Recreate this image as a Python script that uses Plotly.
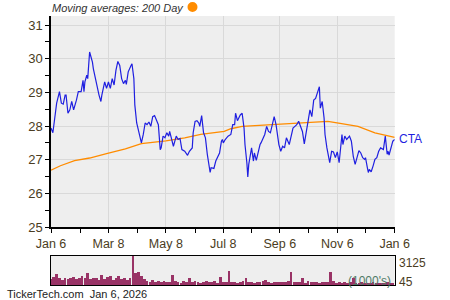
import pandas as pd
import plotly.graph_objects as go

START = "2025-01-06"
END = "2026-01-06"

# Price series: day offset from START, closing price
price_days = [0, 2, 6, 9, 11, 13, 15, 16, 18, 20, 22, 24, 27, 29, 32, 34, 35, 36, 38, 39,
              41, 44, 45, 47, 49, 51, 53, 54, 57, 59, 61, 63, 65, 67, 69, 71, 73, 75, 77, 79,
              80, 82, 85, 86, 88, 89, 91, 93, 94, 96, 98, 100, 102, 104, 106, 108, 110, 112, 114, 116,
              117, 119, 121, 123, 125, 126, 130, 133, 135, 137, 139, 142, 144, 145, 147, 150, 151, 153, 155, 157,
              158, 160, 162, 164, 166, 169, 170, 173, 175, 177, 179, 181, 182, 183, 185, 188, 191, 193, 195, 196,
              198, 201, 203, 205, 206, 208, 209, 210, 213, 215, 216, 218, 220, 222, 223, 225, 227, 229, 231, 233,
              235, 237, 239, 242, 244, 246, 248, 250, 253, 255, 257, 259, 261, 263, 265, 267, 269, 271, 273, 275,
              277, 279, 281, 283, 285, 286, 288, 290, 291, 293, 295, 296, 298, 300, 302, 304, 306, 307, 309, 310,
              312, 314, 317, 319, 321, 323, 325, 327, 329, 331, 333, 334, 336, 337, 338, 340, 342, 344, 346, 348,
              350, 353, 355, 357, 358, 359, 362, 363, 365]
price_vals = [27.94, 27.80, 28.68, 29.02, 28.68, 28.65, 28.92, 28.92, 28.38, 28.48, 28.73, 28.48, 28.77, 29.02, 29.02, 29.36, 29.02, 29.31, 29.51, 29.41,
              30.20, 29.90, 29.70, 29.41, 29.12, 28.92, 28.73, 28.92, 29.31, 29.12, 29.31, 29.12, 29.41, 29.22, 29.66, 29.92, 29.80, 29.41, 29.26, 29.36,
              29.24, 29.61, 29.80, 29.85, 29.41, 28.63, 28.09, 27.84, 27.75, 27.50, 27.75, 28.09, 28.04, 28.12, 27.99, 28.28, 28.31, 28.19, 28.04, 27.30,
              27.35, 27.70, 27.65, 27.80, 27.70, 27.84, 27.40, 27.70, 27.60, 27.63, 27.30, 27.25, 27.16, 27.13, 27.25, 27.35, 27.80, 28.14, 28.16, 28.09,
              27.99, 28.31, 27.80, 27.65, 27.16, 26.62, 26.76, 26.74, 26.96, 27.06, 27.20, 27.55, 27.60, 27.50, 27.60, 27.70, 27.75, 28.04, 28.04, 28.38,
              28.16, 28.33, 28.38, 27.94, 27.45, 26.91, 26.49, 26.86, 27.35, 26.96, 27.20, 26.98, 27.25, 27.45, 27.50, 27.65, 27.75, 27.99, 27.84, 27.80,
              28.04, 28.28, 28.04, 27.45, 27.25, 27.40, 27.35, 27.65, 27.45, 27.75, 27.94, 27.99, 28.04, 28.14, 27.99, 27.84, 27.47, 27.80, 28.14, 28.48,
              28.28, 28.77, 28.82, 29.02, 29.17, 28.53, 28.73, 28.24, 27.75, 27.35, 27.06, 26.91, 27.25, 27.23, 27.06, 27.23, 26.91, 27.16, 27.75, 27.45,
              27.70, 27.60, 27.70, 27.55, 27.10, 26.86, 27.06, 27.27, 27.20, 27.06, 27.01, 27.06, 26.76, 26.62, 26.71, 26.64, 26.81, 27.01, 27.06, 27.25,
              27.35, 27.30, 27.70, 27.16, 27.25, 27.14, 27.45, 27.55, 27.60]

# 200-day moving average
ma_days = [0, 10, 25, 41, 59, 79, 96, 122, 142, 159, 184, 191, 203, 220, 245, 264, 285, 294, 307, 326, 344, 361, 365]
ma_vals = [26.69, 26.82, 26.97, 27.05, 27.18, 27.32, 27.48, 27.56, 27.65, 27.75, 27.84, 27.92, 27.99, 28.02, 28.07, 28.09, 28.13, 28.14, 28.08, 27.99, 27.80, 27.70, 27.66]

# Volume (thousands), every 3 days
vol_step_days = 3
vol_vals = [650, 900, 1190, 720, 540, 790, 650, 720, 900, 610, 790, 1010, 720, 1260, 650, 790,
            720, 540, 1080, 650, 900, 1010, 540, 720, 970, 650, 790, 540, 720,
            3125,
            1300, 1400, 1000, 650,
            430, 360, 500, 290, 400, 330, 470, 360, 290, 1080, 400, 330, 250, 430, 360, 720,
            290, 400, 330, 250, 360, 470, 290, 330, 400, 250, 900, 360, 290,
            1510,
            360, 290, 250, 330, 400, 720, 290, 360, 250, 330, 290, 400, 540, 290, 250, 360, 330, 290,
            330, 290, 400, 1440, 360, 290, 330, 720, 250, 400, 330, 290, 360, 250, 330,
            290, 360, 1370, 400, 250, 290, 200, 330, 250, 290, 720, 200, 250, 290, 180, 250, 200,
            290, 250, 200, 180, 250, 290, 200, 250]

x_major = ["2025-01-06", "2025-03-08", "2025-05-08", "2025-07-08", "2025-09-06", "2025-11-06", "2026-01-06"]
x_major_text = ["Jan 6", "Mar 8", "May 8", "Jul 8", "Sep 6", "Nov 6", "Jan 6"]
x_minor = ["2025-02-06", "2025-04-08", "2025-06-08", "2025-08-07", "2025-10-06", "2025-12-06"]

start = pd.Timestamp(START)
price_dates = start + pd.to_timedelta(price_days, unit="D")
ma_dates = start + pd.to_timedelta(ma_days, unit="D")
vol_dates = start + pd.to_timedelta([i * vol_step_days for i in range(len(vol_vals))], unit="D")

FONT = "Liberation Sans, Arial, sans-serif"
TXT = "#4a3c22"

fig = go.Figure()
fig.add_trace(go.Scatter(x=ma_dates, y=ma_vals, mode="lines",
                         line=dict(color="#ff8c00", width=1.3), xaxis="x", yaxis="y", hoverinfo="skip"))
fig.add_trace(go.Scatter(x=price_dates, y=price_vals, mode="lines",
                         line=dict(color="#1f1fe0", width=1.2), xaxis="x", yaxis="y"))
fig.add_trace(go.Bar(x=vol_dates, y=vol_vals, marker=dict(color="#993366", line=dict(width=0)),
                     width=2.9 * 86400000, xaxis="x2", yaxis="y2"))

xd = [51 / 450, 394.7 / 450]
fig.update_layout(
    width=450, height=300, margin=dict(l=0, r=0, t=0, b=0, autoexpand=False),
    paper_bgcolor="white", plot_bgcolor="#eeeeee", showlegend=False,
    font=dict(family=FONT, size=12, color=TXT),
    xaxis=dict(domain=xd, anchor="y", type="date", range=[START, END], automargin=False,
               tickmode="array", tickvals=x_major, ticktext=x_major_text,
               ticks="outside", ticklen=4, tickcolor="black", tickwidth=1,
               showline=True, linecolor="black", linewidth=1.5,
               showgrid=True, gridcolor="#d9d9d9", gridwidth=1,
               tickfont=dict(size=12.5, color=TXT), zeroline=False,
               minor=dict(tickmode="array", tickvals=x_minor, ticks="outside", ticklen=4,
                          tickcolor="black", showgrid=False)),
    yaxis=dict(domain=[1 - 227 / 300, 1 - 16 / 300], anchor="x", range=[25, 31.27], automargin=False,
               tickmode="linear", tick0=25, dtick=1,
               ticks="outside", ticklen=4, tickcolor="black",
               showline=True, linecolor="black", linewidth=1.5,
               showgrid=True, gridcolor="#d9d9d9", gridwidth=1, zeroline=False,
               tickfont=dict(size=13, color=TXT),
               minor=dict(tickmode="linear", tick0=25.5, dtick=1, ticks="outside", ticklen=4,
                          tickcolor="black", showgrid=False)),
    xaxis2=dict(domain=xd, anchor="y2", type="date", range=[START, END], automargin=False,
                showticklabels=False, ticks="", showgrid=False, zeroline=False,
                showline=True, linecolor="black", linewidth=1.2, mirror=True),
    yaxis2=dict(domain=[1 - 285 / 300, 1 - 256 / 300], anchor="x2", range=[0, 3125], automargin=False,
                showticklabels=False, ticks="", showgrid=False, zeroline=False,
                showline=True, linecolor="black", linewidth=1.2, mirror=True),
    bargap=0,
)

fig.add_annotation(x=50 / 450, y=1 - 8 / 300, xref="paper", yref="paper", xanchor="left", yanchor="middle",
                   text="<i>Moving averages: 200 Day</i>", showarrow=False,
                   font=dict(size=11, color="#333333", family=FONT))
fig.add_shape(type="circle", xref="paper", yref="paper",
              x0=187.5 / 450, x1=197.5 / 450, y0=1 - 12 / 300, y1=1 - 2 / 300,
              fillcolor="#ff8c00", line=dict(width=0))
fig.add_annotation(x=397 / 450, y=1 - 139 / 300, xref="paper", yref="paper", xanchor="left", yanchor="middle",
                   text="CTA", showarrow=False, font=dict(size=12, color="#1f1fe0", family=FONT))
fig.add_annotation(x=397 / 450, y=1 - 263 / 300, xref="paper", yref="paper", xanchor="left", yanchor="middle",
                   text="3125", showarrow=False, font=dict(size=12, color=TXT, family=FONT))
fig.add_annotation(x=397 / 450, y=1 - 282 / 300, xref="paper", yref="paper", xanchor="left", yanchor="middle",
                   text="45", showarrow=False, font=dict(size=12, color=TXT, family=FONT))
fig.add_annotation(x=393 / 450, y=1 - 281 / 300, xref="paper", yref="paper", xanchor="right", yanchor="middle",
                   text="(1000's)", showarrow=False, font=dict(size=12, color="#4f7a66", family=FONT))
fig.add_annotation(x=5 / 450, y=1 - 294 / 300, xref="paper", yref="paper", xanchor="left", yanchor="middle",
                   text="TickerTech.com  Jan 6, 2026", showarrow=False,
                   font=dict(size=11, color="#222222", family=FONT))

fig.write_html("out.html")
